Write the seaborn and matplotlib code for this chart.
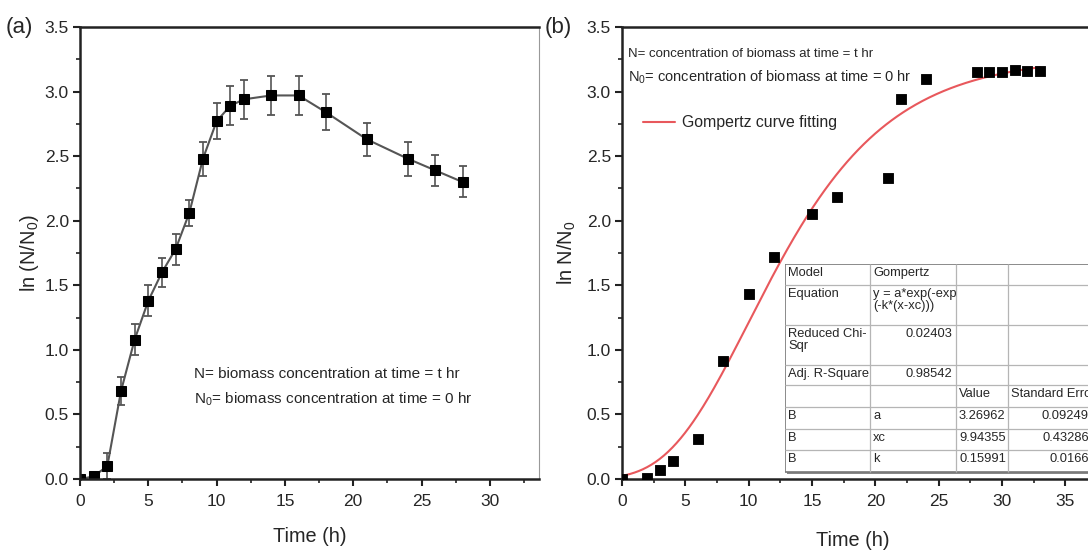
import numpy as np
import pandas as pd
import matplotlib
matplotlib.use("Agg")
import matplotlib.pyplot as plt
from matplotlib.ticker import MultipleLocator
import seaborn as sns

# (a) ln(N/N0) over time, with error bars
time_a = [0, 1, 2, 3, 4, 5, 6, 7, 8, 9, 10, 11, 12, 14, 16, 18, 21, 24, 26, 28]
ln_a = [0.0, 0.02, 0.10, 0.68, 1.08, 1.38, 1.60, 1.78, 2.06, 2.48, 2.77,
        2.89, 2.94, 2.97, 2.97, 2.84, 2.63, 2.48, 2.39, 2.30]
err_a = [0.01, 0.01, 0.10, 0.11, 0.12, 0.12, 0.11, 0.12, 0.10, 0.13, 0.14,
         0.15, 0.15, 0.15, 0.15, 0.14, 0.13, 0.13, 0.12, 0.12]

# (b) measured points + Gompertz fit (parameters from the table)
time_b = [0, 2, 3, 4, 6, 8, 10, 12, 15, 17, 21, 22, 24, 28, 29, 30, 31, 32, 33]
ln_b = [0.0, 0.01, 0.07, 0.14, 0.31, 0.91, 1.43, 1.72, 2.05, 2.18, 2.33,
        2.94, 3.10, 3.15, 3.15, 3.15, 3.17, 3.16, 3.16]
gomp_a = 3.26962
gomp_xc = 9.94355
gomp_k = 0.15991

table_rows = [
    ["Model", "Gompertz", "", ""],
    ["Equation", "y = a*exp(-exp\n(-k*(x-xc)))", "", ""],
    ["Reduced Chi-\nSqr", "0.02403", "", ""],
    ["Adj. R-Square", "0.98542", "", ""],
    ["", "", "Value", "Standard Error"],
    ["B", "a", "3.26962", "0.09249"],
    ["B", "xc", "9.94355", "0.43286"],
    ["B", "k", "0.15991", "0.0166"],
]
# which cells are right aligned
right_cells = {(2, 1), (3, 1), (5, 3), (6, 3), (7, 3)}

sns.set_style("ticks")
plt.rcParams['font.family'] = ['Liberation Sans', 'DejaVu Sans']
plt.rcParams['mathtext.default'] = 'regular'

W, H = 1088, 553
fig = plt.figure(figsize=(W / 100, H / 100), dpi=100)

ax1 = fig.add_axes([80 / W, (H - 479) / H, (539 - 80) / W, (479 - 27) / H])
ax2 = fig.add_axes([622 / W, (H - 479) / H, (1120 - 622) / W, (479 - 27) / H])


def style_axes(ax):
    for s in ["left", "bottom", "top"]:
        ax.spines[s].set_linewidth(1.8)
        ax.spines[s].set_color("#222222")
    ax.spines["right"].set_linewidth(0.8)
    ax.spines["right"].set_color("#999999")
    ax.set_ylim(0, 3.5)
    ax.yaxis.set_major_locator(MultipleLocator(0.5))
    ax.yaxis.set_minor_locator(MultipleLocator(0.25))
    ax.xaxis.set_major_locator(MultipleLocator(5))
    ax.xaxis.set_minor_locator(MultipleLocator(2.5))
    ax.tick_params(which="major", direction="out", length=5, width=1.5,
                   labelsize=12.5, color="#222222")
    ax.tick_params(which="minor", direction="out", length=3, width=1.2,
                   color="#222222")
    ax.tick_params(axis="x", which="major", pad=6)
    ax.tick_params(axis="y", which="major", pad=3)
    ax.yaxis.set_major_formatter(plt.FuncFormatter(lambda v, p: f"{v:.1f}"))


# panel (a)
ax1.errorbar(time_a, ln_a, yerr=err_a, fmt="none", ecolor="#555555",
             elinewidth=1.2, capsize=3, capthick=1.3)
sns.lineplot(x=time_a, y=ln_a, ax=ax1, color="#555555", lw=1.5,
             marker="s", markersize=7.5, markerfacecolor="black",
             markeredgecolor="black")
style_axes(ax1)
ax1.set_xlim(0, 33.6)
ax1.set_xlabel("Time (h)", fontsize=14.3)
ax1.set_ylabel("ln (N/N$_0$)", fontsize=14.3)
ax1.xaxis.set_label_coords(0.5, -0.106)
ax1.yaxis.set_label_coords(-0.085, 0.5)

fig.text(194 / W, 1 - 374 / H, "N= biomass concentration at time = t hr",
         fontsize=11, va="center")
fig.text(194 / W, 1 - 399 / H, "N$_0$= biomass concentration at time = 0 hr",
         fontsize=11, va="center")

# panel (b)
fit_x = np.linspace(0, 33, 300)
fit_y = gomp_a * np.exp(-np.exp(-gomp_k * (fit_x - gomp_xc)))
sns.lineplot(x=fit_x, y=fit_y, ax=ax2, color="#e8585c", lw=1.5,
             label="Gompertz curve fitting")
sns.scatterplot(x=time_b, y=ln_b, ax=ax2, marker="s", s=60, color="black",
                edgecolor="black", zorder=3)
style_axes(ax2)
ax2.set_xlim(0, (1120 - 622) / 12.67)
ax2.set_xlabel("Time (h)", fontsize=14.3)
ax2.set_ylabel("ln N/N$_0$", fontsize=14.3)
ax2.xaxis.set_label_coords((853 - 622) / (1120 - 622), -0.115)
ax2.yaxis.set_label_coords(-0.088, 0.5)
ax2.legend(loc="center left", bbox_to_anchor=((643 - 622) / 498, (479 - 123) / 452),
           frameon=False, fontsize=11.4, handlelength=2.0, handletextpad=0.45,
           borderaxespad=0, borderpad=0)

fig.text(628 / W, 1 - 54 / H, "N= concentration of biomass at time = t hr",
         fontsize=9.5, va="center")
fig.text(628 / W, 1 - 77 / H, "N$_0$= concentration of biomass at time = 0 hr",
         fontsize=10.5, va="center")

# fit result table
col_edges = [785, 870, 956, 1008, 1093]
row_edges = [264, 285, 325, 365, 385, 407, 429, 450, 472]
tab = fig.add_axes([col_edges[0] / W, 1 - (row_edges[-1] + 3) / H,
                    (col_edges[-1] + 3 - col_edges[0]) / W,
                    (row_edges[-1] + 3 - row_edges[0]) / H])
tab.set_xlim(col_edges[0], col_edges[-1] + 3)
tab.set_ylim(row_edges[-1] + 3, row_edges[0])
tab.axis("off")
tab.add_patch(plt.Rectangle((col_edges[0] + 2, row_edges[0] + 2),
                            col_edges[-1] - col_edges[0], row_edges[-1] - row_edges[0],
                            facecolor="#888888", edgecolor="none"))
tab.add_patch(plt.Rectangle((col_edges[0], row_edges[0]),
                            col_edges[-1] - col_edges[0], row_edges[-1] - row_edges[0],
                            facecolor="white", edgecolor="#777777", lw=1.2))
tab.hlines(row_edges[1:-1], col_edges[0], col_edges[-1], color="#b5b5b5", lw=0.9)
tab.vlines(col_edges[1:-1], row_edges[0], row_edges[-1], color="#b5b5b5", lw=0.9)
tab_font = ['Liberation Sans Narrow', 'Liberation Sans', 'DejaVu Sans']
for r, row in enumerate(table_rows):
    for c, txt in enumerate(row):
        if not txt:
            continue
        if (r, c) in right_cells:
            tab.text(col_edges[c + 1] - 4, row_edges[r] + 3, txt, ha="right",
                     va="top", fontsize=9.3, family=tab_font, linespacing=1.0)
        else:
            tab.text(col_edges[c] + 3, row_edges[r] + 3, txt, ha="left",
                     va="top", fontsize=9.3, family=tab_font, linespacing=1.0)

fig.text(6 / W, 1 - 27 / H, "(a)", fontsize=16, va="center")
fig.text(545 / W, 1 - 27 / H, "(b)", fontsize=16, va="center")

fig.savefig("out.png", dpi=100)
